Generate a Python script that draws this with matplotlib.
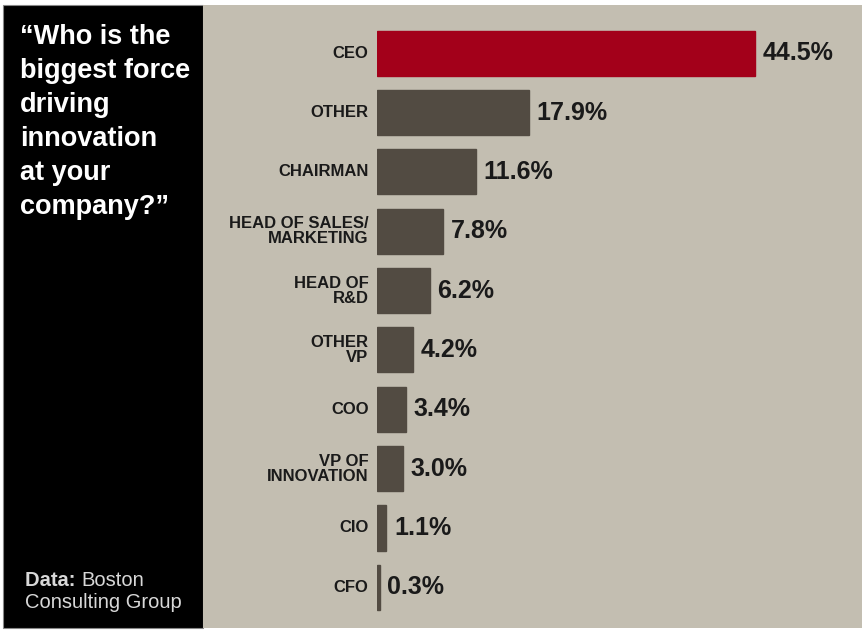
import matplotlib.pyplot as plt
from matplotlib.patches import Rectangle

categories = ["CEO", "OTHER", "CHAIRMAN", "HEAD OF SALES/\nMARKETING", "HEAD OF\nR&D",
              "OTHER\nVP", "COO", "VP OF\nINNOVATION", "CIO", "CFO"]
values = [44.5, 17.9, 11.6, 7.8, 6.2, 4.2, 3.4, 3.0, 1.1, 0.3]
value_labels = ["44.5%", "17.9%", "11.6%", "7.8%", "6.2%", "4.2%", "3.4%", "3.0%", "1.1%", "0.3%"]
title = "\u201cWho is the\nbiggest force\ndriving\ninnovation\nat your\ncompany?\u201d"

TAN = "#c3beb1"
BAR = "#524b42"
RED = "#a3001a"
FONT = ["Liberation Sans", "DejaVu Sans"]

W, H = 865, 632
fig = plt.figure(figsize=(W / 100, H / 100), dpi=100, facecolor="white")

# panels (behind the axes)
fig.patches.append(Rectangle((3 / W, 4 / H), 200 / W, 623 / H, transform=fig.transFigure,
                             facecolor="black", edgecolor="#888888", lw=0.8, zorder=-2))
fig.patches.append(Rectangle((203 / W, 4 / H), 659 / W, 623 / H, transform=fig.transFigure,
                             facecolor=TAN, edgecolor="none", zorder=-2))

fig.text(20 / W, 1 - 24 / H, title, color="white", fontsize=19.5, fontweight="bold",
         family=FONT, va="top", ha="left", linespacing=1.4)
t1 = fig.text(25 / W, 1 - 580 / H, "Data: ", color="#d8d8d8", fontsize=14.5, fontweight="bold",
              family=FONT, va="center", ha="left")
fig.canvas.draw()
bb = t1.get_window_extent()
fig.text(bb.x1 / W, 1 - 580 / H, "Boston", color="#d8d8d8", fontsize=14.5,
         family=FONT, va="center", ha="left")
fig.text(25 / W, 1 - 603 / H, "Consulting Group", color="#d8d8d8", fontsize=14.5,
         family=FONT, va="center", ha="left")

ax_left, ax_right, ax_top, ax_bot = 377, 862, 23.5, 617
ax = fig.add_axes([ax_left / W, 1 - ax_bot / H, (ax_right - ax_left) / W, (ax_bot - ax_top) / H])
ax.set_facecolor("none")
ypos = list(range(len(categories)))
colors = [RED] + [BAR] * (len(categories) - 1)
ax.barh(ypos, values, height=0.76, color=colors, edgecolor=colors)
ax.set_ylim(len(categories) - 0.5, -0.5)
ax.set_xlim(0, (ax_right - ax_left) / 8.5)
for y, v, lab, cat in zip(ypos, values, value_labels, categories):
    ax.text(v + 0.9, y, lab, va="center", ha="left", fontsize=18, fontweight="bold",
            family=FONT, color="#1a1a1a")
    ax.text(-1.0, y, cat, va="center", ha="right", fontsize=12,
            fontweight="bold", family=FONT, color="#1a1a1a", linespacing=1.0)
ax.set_xticks([])
ax.set_yticks([])
for s in ax.spines.values():
    s.set_visible(False)

fig.savefig("out.png", dpi=100, facecolor="white")
